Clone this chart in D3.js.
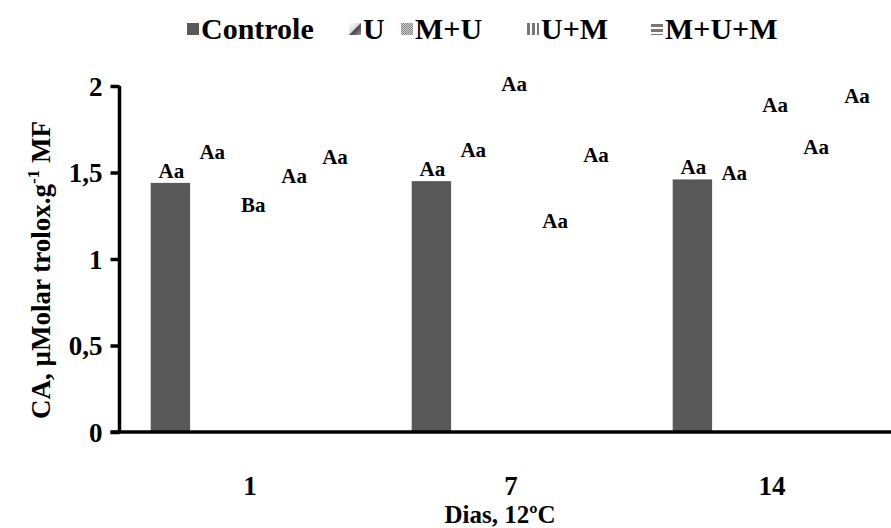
<!DOCTYPE html>
<html>
<head>
<meta charset="utf-8">
<script src="https://cdn.jsdelivr.net/npm/d3@7"></script>
<style>
body{margin:0;background:#fff;}
text{font-family:"Liberation Serif","Times New Roman",serif;font-weight:bold;fill:#000;}
</style>
</head>
<body>
<svg id="chart" width="891" height="528"></svg>
<script>
//data
var days = ["1", "7", "14"];
var series = ["Controle", "U", "M+U", "U+M", "M+U+M"];
var controle = [1.44, 1.45, 1.46];
var uVals = [1.55, 1.56, 1.43];
var muVals = [1.24, 1.94, 1.82];
var umVals = [1.41, 1.15, 1.58];
var mumVals = [1.52, 1.53, 1.87];
var letters = [
	["Aa", "Aa", "Ba", "Aa", "Aa"],
	["Aa", "Aa", "Aa", "Aa", "Aa"],
	["Aa", "Aa", "Aa", "Aa", "Aa"]
];
var yTicks = [0, 0.5, 1, 1.5, 2];

var svg = d3.select("#chart");
var margin = {left: 119.5, top: 86, bottom: 96};
var height = 528 - margin.top - margin.bottom;

//patterns for the legend swatches
var defs = svg.append("defs");
var pU = defs.append("linearGradient").attr("id", "patU")
	.attr("x1", "0").attr("y1", "0").attr("x2", "1").attr("y2", "1");
pU.append("stop").attr("offset", "0").attr("stop-color", "#fff");
pU.append("stop").attr("offset", "0.45").attr("stop-color", "#ddd");
pU.append("stop").attr("offset", "0.55").attr("stop-color", "#444");
pU.append("stop").attr("offset", "1").attr("stop-color", "#999");
var pMU = defs.append("pattern").attr("id", "patMU").attr("patternUnits", "userSpaceOnUse")
	.attr("width", 2).attr("height", 2);
pMU.append("rect").attr("width", 2).attr("height", 2).attr("fill", "#ccc");
pMU.append("rect").attr("width", 1).attr("height", 1).attr("fill", "#888");
pMU.append("rect").attr("x", 1).attr("y", 1).attr("width", 1).attr("height", 1).attr("fill", "#888");
var pUM = defs.append("pattern").attr("id", "patUM").attr("patternUnits", "userSpaceOnUse")
	.attr("width", 5).attr("height", 4);
pUM.append("rect").attr("width", 5).attr("height", 4).attr("fill", "#fff");
pUM.append("rect").attr("width", 3).attr("height", 4).attr("fill", "#777");
var pMUM = defs.append("pattern").attr("id", "patMUM").attr("patternUnits", "userSpaceOnUse")
	.attr("width", 12).attr("height", 5);
pMUM.append("rect").attr("width", 12).attr("height", 5).attr("fill", "#fff");
pMUM.append("rect").attr("width", 12).attr("height", 3).attr("fill", "#777");
var swatchFill = ["#595959", "url(#patU)", "url(#patMU)", "url(#patUM)", "url(#patMUM)"];

var x0 = d3.scaleBand().domain(days).range([margin.left, margin.left + 783]);
var x1 = d3.scaleBand().domain(series).range([31.2, 228.2]);
var y = d3.scaleLinear().domain([0, 2]).range([margin.top + height, margin.top]);

var table = days.map(function(d, i){
	return {
		day: d,
		vals: [controle[i], uVals[i], muVals[i], umVals[i], mumVals[i]].map(function(v, j){
			return {series: series[j], value: v, label: letters[i][j]};
		})
	};
});

var groups = svg.selectAll(".day")
	.data(table)
	.enter()
	.append("g")
	.attr("class", "day")
	.attr("transform", function(d){ return "translate(" + x0(d.day) + ",0)"; });

//only the Controle bars show in the original, others are empty
groups.selectAll("rect")
	.data(function(d){ return d.vals; })
	.enter()
	.append("rect")
	.attr("x", function(d){ return x1(d.series); })
	.attr("width", x1.bandwidth())
	.attr("y", function(d){ return y(d.value); })
	.attr("height", function(d){ return y(0) - y(d.value); })
	.style("fill", function(d){ return d.series == "Controle" ? "#595959" : "none"; });

groups.selectAll(".lbl")
	.data(function(d, i){ return d.vals; })
	.enter()
	.append("text")
	.attr("class", "lbl")
	.attr("x", function(d, j){ return x1(d.series) + x1.bandwidth() / 2 + 1 + j * 1.5; })
	.attr("y", function(d){ return y(d.value) - 5; })
	.attr("text-anchor", "middle")
	.style("font-size", "21px")
	.text(function(d){ return d.label; });

//y axis
var yAxis = d3.axisLeft(y)
	.tickValues(yTicks)
	.tickSize(9)
	.tickPadding(8)
	.tickFormat(function(d){ return String(d).replace(".", ","); });
var gy = svg.append("g")
	.attr("transform", "translate(" + margin.left + ",0)")
	.call(yAxis);
gy.select(".domain").attr("stroke", "#000").attr("stroke-width", 3.5)
	.attr("d", "M0," + (margin.top) + "V" + y(0));
gy.selectAll(".tick line").attr("stroke", "#000").attr("stroke-width", 3.5);
gy.selectAll(".tick text").style("font-size", "27px").style("font-family", "Liberation Serif")
	.attr("dy", "0.34em");

//x axis
var xAxis = d3.axisBottom(x0).tickSize(0).tickPadding(44);
var gx = svg.append("g")
	.attr("transform", "translate(0," + y(0) + ")")
	.call(xAxis);
gx.select(".domain").attr("stroke", "#000").attr("stroke-width", 3.5)
	.attr("d", "M" + (margin.left - 9) + ",0H891");
gx.selectAll(".tick text").style("font-size", "27px").style("font-family", "Liberation Serif");

svg.append("text")
	.attr("x", 500)
	.attr("y", 523)
	.attr("text-anchor", "middle")
	.style("font-size", "25px")
	.text("Dias, 12ºC");

var yt = svg.append("text")
	.attr("transform", "translate(50,270) rotate(-90)")
	.attr("text-anchor", "middle")
	.style("font-size", "27px");
yt.append("tspan").text("CA, µMolar trolox.g");
yt.append("tspan").attr("dy", -11).style("font-size", "17px").text("-1");
yt.append("tspan").attr("dy", 11).text(" MF");

//legend
var legendX = [187, 349, 401, 527, 651];
var lgd = svg.selectAll(".entry")
	.data(series)
	.enter()
	.append("g")
	.attr("class", "entry")
	.attr("transform", function(d, i){ return "translate(" + legendX[i] + ",29)"; });
lgd.append("rect")
	.attr("x", 0).attr("y", -6).attr("width", 12).attr("height", 12)
	.style("fill", function(d, i){ return swatchFill[i]; });
lgd.append("text")
	.attr("x", 14)
	.attr("y", 10)
	.style("font-size", "30px")
	.text(function(d){ return d; });
</script>
</body>
</html>
